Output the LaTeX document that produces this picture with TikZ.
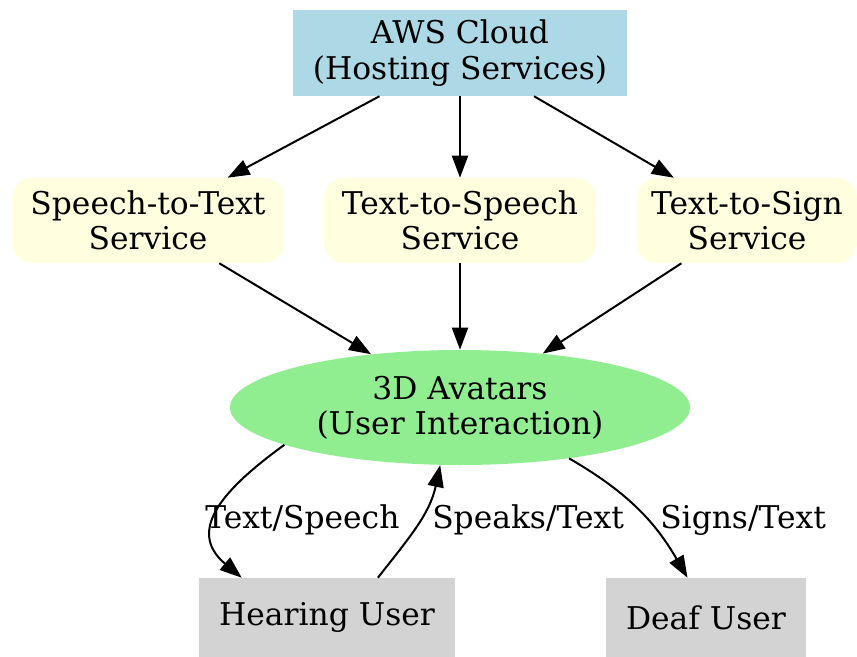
\documentclass[tikz,border=0pt]{standalone}
\usepackage{fontspec}
\setmainfont{DejaVu Serif}
\usetikzlibrary{arrows.meta}
\usetikzlibrary{shapes.geometric}

\definecolor{cloudblue}{HTML}{ADD8E6}
\definecolor{serviceyellow}{HTML}{FFFFE0}
\definecolor{avatargreen}{HTML}{90EE90}
\definecolor{usergray}{HTML}{D3D3D3}

\begin{document}
\begin{tikzpicture}[x=0.75pt,y=-0.75pt,
    font=\fontsize{23.5}{26.5}\selectfont,
    % styles
    cloud box/.style={fill=cloudblue,draw=none,align=center,inner sep=0pt,
      minimum width=250.5pt,minimum height=64.5pt},
    service box/.style={fill=serviceyellow,draw=none,rounded corners=15pt,
      align=center,inner sep=0pt,minimum width=204pt,minimum height=63.75pt},
    avatar/.style={ellipse,fill=avatargreen,draw=none,align=center,inner sep=0pt,
      minimum width=345pt,minimum height=86.25pt},
    user box/.style={fill=usergray,draw=none,align=center,inner sep=0pt,
      minimum height=59.25pt},
    flow/.style={line width=1.5pt,-{Triangle[length=16.5pt,width=12pt]}},
    flow label/.style={anchor=west,inner sep=0pt}]

  \useasboundingbox (0,0) rectangle (857,657);

  % hosting
  \node [cloud box] (aws) at (460,53) {AWS Cloud\\(Hosting Services)};

  % services
  \node [service box] (stt) at (148,220.5) {Speech-to-Text\\Service};
  \node [service box] (tts) at (460,220.5) {Text-to-Speech\\Service};
  \node [service box,minimum width=165pt] (tsign) at (747,220.5) {Text-to-Sign\\Service};

  % avatars
  \node [avatar] (av) at (460,407.5) {3D Avatars\\(User Interaction)};

  % users
  \node [user box,minimum width=192pt] (hear) at (327,617.5) {Hearing User};
  \node [user box,minimum width=150pt] (deaf) at (706,617.5) {Deaf User};

  % cloud to services
  \draw [flow] (aws) -- (stt);
  \draw [flow] (aws) -- (tts);
  \draw [flow] (aws) -- (tsign);

  % services to avatars
  \draw [flow] (stt) -- (av);
  \draw [flow] (tts) -- (av);
  \draw [flow] (tsign) -- (av);

  % avatars and users
  \draw [flow] (av.192) to[out=216,in=140,looseness=1.35] (hear.155);
  \draw [flow] (hear.38) to[out=52,in=258] (av.251);
  \draw [flow] (av.335) to[out=-30,in=120] (deaf.115);

  % labels
  \node [flow label] (lts) at (205,520) {Text/Speech};
  \node [flow label] (lst) at (432,520) {Speaks/Text};
  \node [flow label] (lsg) at (660,520) {Signs/Text};

\end{tikzpicture}
\end{document}
